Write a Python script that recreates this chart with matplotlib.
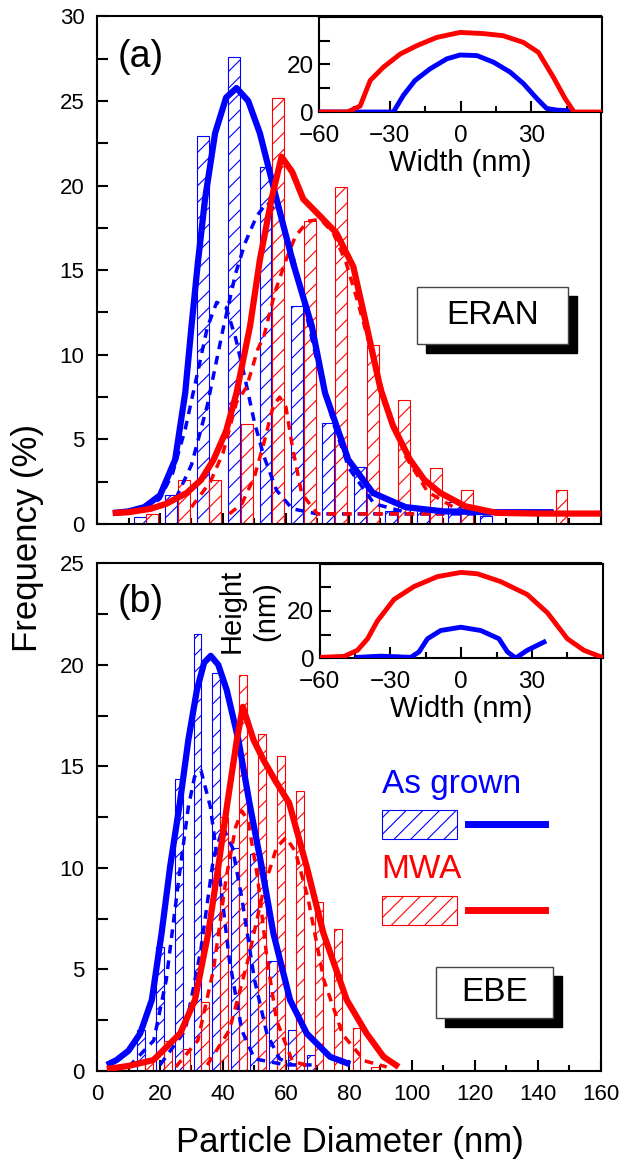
import numpy as np
import matplotlib.pyplot as plt
from matplotlib.patches import Rectangle
from matplotlib.lines import Line2D
from matplotlib.ticker import MultipleLocator

plt.rcParams['font.family'] = ['Liberation Sans', 'DejaVu Sans']
plt.rcParams['hatch.linewidth'] = 0.8

BLUE = '#0000ff'
RED = '#ff0000'

# ---- (a) ERAN histogram (bar centre nm, frequency %)
a_blue_x = [13.5, 23.5, 33.5, 43.5, 53.5, 63.5, 73.5, 83.5, 93.5, 103.5, 113.5, 123.5]
a_blue_y = [0.4, 1.7, 22.9, 27.6, 21.1, 12.9, 6.0, 3.4, 0.8, 0.9, 1.3, 0.5]
a_red_x = [17.5, 27.5, 37.5, 47.5, 57.5, 67.5, 77.5, 87.5, 97.5, 107.5, 117.5, 147.5]
a_red_y = [0.6, 2.6, 2.6, 5.9, 25.2, 17.9, 19.9, 10.6, 7.3, 3.3, 2.0, 2.0]

# fitted curves
a_blue_fit_x = [5, 10, 15, 20, 24.8, 28, 30, 32, 34.3, 37.5, 41, 44.3, 48, 51.7, 57, 62.3, 68.2, 72.4, 79.8, 87.6, 98, 110, 125, 145]
a_blue_fit_y = [0.65, 0.75, 1.0, 1.7, 3.8, 7.75, 11.7, 15.4, 19.2, 23.1, 25.2, 25.76, 25.0, 23.1, 19.2, 15.4, 11.7, 7.75, 3.8, 1.84, 1.0, 0.75, 0.7, 0.7]
a_red_fit_x = [5, 10, 17, 22, 28.5, 33, 37, 41, 44.3, 48.6, 51.7, 55.4, 58.6, 62, 65.5, 70.8, 76, 81.4, 85.6, 90, 94, 99.4, 104, 109, 117, 127, 140, 160]
a_red_fit_y = [0.65, 0.7, 0.9, 1.2, 1.84, 2.6, 3.8, 5.5, 7.75, 11.7, 15.6, 19.2, 21.7, 20.8, 19.2, 18.2, 17.2, 15.2, 11.7, 8.0, 5.8, 3.8, 2.6, 1.84, 1.05, 0.66, 0.62, 0.62]
a_blue_p1_x = [15, 20, 24, 28, 32, 35, 38, 41, 44, 47, 50, 53, 57, 62, 70, 90, 140]
a_blue_p1_y = [0.8, 1.5, 3.0, 5.6, 9.0, 11.6, 13.1, 12.8, 11.0, 8.6, 6.0, 4.0, 2.0, 0.9, 0.6, 0.6, 0.6]
a_blue_p2_x = [25, 30, 35, 40, 44, 47, 50.7, 54, 58, 62, 66, 70, 75, 80, 88, 100]
a_blue_p2_y = [1.5, 3.5, 7.0, 11.5, 14.8, 16.6, 18.2, 19.0, 18.3, 16.0, 12.8, 9.5, 6.0, 3.3, 1.2, 0.6]
a_red_p1_x = [42, 46, 50, 53, 56, 58, 60, 62, 65, 70, 80, 110]
a_red_p1_y = [0.6, 1.2, 2.8, 4.8, 7.0, 7.5, 6.9, 4.6, 1.8, 0.6, 0.6, 0.6]
a_red_p2_x = [30, 36, 40, 44.3, 47.5, 51, 53, 56.5, 60, 63, 67, 71, 75, 79, 83, 87, 92, 98, 105, 115, 125]
a_red_p2_y = [1.0, 2.5, 4.2, 7.2, 8.1, 10.3, 11.1, 13.7, 15.6, 17.0, 17.9, 18.0, 17.2, 15.5, 13.0, 10.3, 7.0, 4.0, 1.9, 0.8, 0.6]

# ---- (b) EBE histogram
b_blue_x = [13.9, 19.9, 25.9, 31.9, 37.9, 43.9, 49.9, 55.9, 61.9, 67.9]
b_blue_y = [2.0, 6.1, 14.4, 21.5, 19.6, 11.0, 10.7, 5.4, 2.0, 0.8]
b_red_x = [16.4, 22.4, 28.4, 34.4, 40.4, 46.4, 52.4, 58.4, 64.4, 70.4, 76.4, 82.4, 88.4]
b_red_y = [0.6, 1.5, 1.1, 3.4, 12.5, 19.5, 16.6, 15.5, 13.8, 8.3, 7.0, 2.1, 0.2]

b_blue_fit_x = [3.1, 6.2, 10, 13.7, 17.4, 20.5, 23.2, 26.3, 29, 31.7, 34, 36.1, 38.5, 41.2, 44.9, 48.4, 52.3, 56, 61.3, 66.6, 74, 80.4]
b_blue_fit_y = [0.3, 0.54, 1.0, 1.85, 3.5, 6.78, 10.05, 13.2, 16.3, 18.75, 20.1, 20.44, 20.0, 18.75, 16.3, 13.2, 10.05, 6.78, 3.5, 1.85, 0.7, 0.33]
b_red_fit_x = [3.1, 10, 17.9, 26.4, 31.1, 35.3, 38.5, 41.4, 44.4, 46.3, 49.7, 52.9, 56.6, 61, 66.6, 71.9, 79.3, 85.6, 91, 95.8]
b_red_fit_y = [0.1, 0.25, 0.54, 1.85, 3.5, 6.78, 10.05, 13.2, 16.3, 17.93, 16.3, 15.3, 14.3, 13.2, 10.05, 6.78, 3.5, 1.85, 0.7, 0.2]
b_blue_p1_x = [10, 18, 22, 26, 29, 31, 33, 36, 39, 42, 46, 50, 60, 70]
b_blue_p1_y = [0.2, 1.5, 4.5, 9.5, 13.0, 14.5, 14.8, 13.0, 9.5, 5.5, 2.0, 0.6, 0.3, 0.3]
b_blue_p2_x = [20, 28, 33, 37, 40, 43, 46, 50, 54, 58, 62]
b_blue_p2_y = [0.3, 2.0, 6.0, 10.5, 12.0, 11.0, 8.5, 4.5, 1.8, 0.6, 0.3]
b_red_p1_x = [25, 32, 37, 41, 44, 46, 48, 51, 54, 57, 62, 68]
b_red_p1_y = [0.2, 1.5, 5.0, 9.5, 12.0, 12.8, 12.3, 9.5, 5.5, 2.5, 0.5, 0.2]
b_red_p2_x = [35, 42, 48, 53, 57, 60, 63, 67, 72, 78, 85, 92]
b_red_p2_y = [0.3, 2.0, 5.5, 9.0, 11.0, 11.5, 10.8, 8.5, 4.5, 1.8, 0.5, 0.2]

# ---- insets: height profiles (width nm, height nm)
ia_red_x = [-60, -48, -42.6, -38.3, -32.7, -25.6, -18.6, -10.1, -0.2, 9.7, 18.1, 26.6, 33, 39.3, 44.3, 48.1, 60]
ia_red_y = [0, 0, 2.5, 13.3, 18.9, 24.4, 27.9, 31.4, 33.5, 33.0, 32.1, 29.3, 25.1, 14.7, 5.7, 0, 0]
ia_blue_x = [-60, -28.5, -24.2, -19.3, -12.9, -5.8, -0.2, 6.9, 13.9, 21, 26.6, 32.3, 36.5, 40.8, 47.1]
ia_blue_y = [0, 0, 7.1, 13.3, 18.2, 22.4, 24.0, 23.75, 21.0, 16.8, 12.0, 5.7, 1.5, 0.8, 0.5]
ib_red_x = [-59.5, -49.7, -44, -39.7, -35.5, -28.5, -20, -10.1, -0.2, 6.9, 16.7, 28, 36.5, 45, 52, 59.8]
ib_red_y = [0.3, 0.7, 3.3, 8.2, 15.8, 24.9, 30.4, 34.6, 36.4, 35.8, 32.5, 27.0, 19.3, 8.2, 3.3, 0.3]
ib_blue_x = [-44, -34.1, -21.4, -17.9, -14.3, -8.7, -0.2, 8.3, 16, 19.6, 23.1, 28, 35.1]
ib_blue_y = [0.3, 0.8, 0.3, 2.6, 8.2, 11.7, 13.1, 11.7, 8.2, 2.6, 0, 3.3, 6.8]


def style_axes(ax, lw=1.5, size=16, xpad=9, ypad=9):
    for s in ax.spines.values():
        s.set_linewidth(lw)
    ax.tick_params(which='both', direction='in', width=lw, labelsize=size)
    ax.tick_params(which='major', length=8)
    ax.tick_params(which='minor', length=4)
    ax.tick_params(axis='y', which='minor', length=8)
    ax.tick_params(axis='x', pad=xpad)
    ax.tick_params(axis='y', pad=ypad)


def draw_hist(ax, bx, by, rx, ry, w):
    ax.bar(bx, by, width=w, facecolor='none', edgecolor=BLUE, hatch='//', linewidth=0.8, zorder=2)
    ax.bar(rx, ry, width=w, facecolor='none', edgecolor=RED, hatch='//', linewidth=0.8, zorder=2)


def label_box(ax, x0, y0, x1, y1, text):
    ax.add_patch(Rectangle((x0 + 0.018, y0 - 0.018), x1 - x0, y1 - y0, transform=ax.transAxes,
                           facecolor='black', edgecolor='black', zorder=5))
    ax.add_patch(Rectangle((x0, y0), x1 - x0, y1 - y0, transform=ax.transAxes,
                           facecolor='white', edgecolor='#444444', linewidth=1, zorder=6))
    ax.text((x0 + x1) / 2, (y0 + y1) / 2, text, transform=ax.transAxes, ha='center', va='center',
            fontsize=24, zorder=7)


fig = plt.figure(figsize=(6.22, 11.62), dpi=100)
ax1 = fig.add_axes([0.156, 0.549, 0.810, 0.437])
ax2 = fig.add_axes([0.156, 0.0783, 0.810, 0.437])

# panel (a)
draw_hist(ax1, a_blue_x, a_blue_y, a_red_x, a_red_y, 3.8)
dash = (0, (2.5, 2))
ax1.plot(a_blue_p1_x, a_blue_p1_y, color=BLUE, lw=2.5, ls=dash, zorder=3)
ax1.plot(a_blue_p2_x, a_blue_p2_y, color=BLUE, lw=2.5, ls=dash, zorder=3)
ax1.plot(a_red_p1_x, a_red_p1_y, color=RED, lw=2.5, ls=dash, zorder=3)
ax1.plot(a_red_p2_x, a_red_p2_y, color=RED, lw=2.5, ls=dash, zorder=3)
ax1.plot(a_blue_fit_x, a_blue_fit_y, color=BLUE, lw=4.5, zorder=4, solid_capstyle='butt')
ax1.plot(a_red_fit_x, a_red_fit_y, color=RED, lw=4.5, zorder=4, solid_capstyle='butt')
ax1.set_xlim(0, 160)
ax1.set_ylim(0, 30)
ax1.xaxis.set_major_locator(MultipleLocator(20))
ax1.xaxis.set_minor_locator(MultipleLocator(10))
ax1.yaxis.set_major_locator(MultipleLocator(5))
ax1.yaxis.set_minor_locator(MultipleLocator(2.5))
style_axes(ax1)
ax1.set_xticklabels([])
ax1.text(0.04, 0.919, '(a)', transform=ax1.transAxes, fontsize=27, va='center')
label_box(ax1, 0.635, 0.354, 0.935, 0.467, 'ERAN')

# panel (b)
draw_hist(ax2, b_blue_x, b_blue_y, b_red_x, b_red_y, 2.5)
ax2.plot(b_blue_p1_x, b_blue_p1_y, color=BLUE, lw=2.5, ls=dash, zorder=3)
ax2.plot(b_blue_p2_x, b_blue_p2_y, color=BLUE, lw=2.5, ls=dash, zorder=3)
ax2.plot(b_red_p1_x, b_red_p1_y, color=RED, lw=2.5, ls=dash, zorder=3)
ax2.plot(b_red_p2_x, b_red_p2_y, color=RED, lw=2.5, ls=dash, zorder=3)
ax2.plot(b_blue_fit_x, b_blue_fit_y, color=BLUE, lw=4.5, zorder=4, solid_capstyle='butt')
ax2.plot(b_red_fit_x, b_red_fit_y, color=RED, lw=4.5, zorder=4, solid_capstyle='butt')
ax2.set_xlim(0, 160)
ax2.set_ylim(0, 25)
ax2.xaxis.set_major_locator(MultipleLocator(20))
ax2.xaxis.set_minor_locator(MultipleLocator(10))
ax2.yaxis.set_major_locator(MultipleLocator(5))
ax2.yaxis.set_minor_locator(MultipleLocator(2.5))
style_axes(ax2)
ax2.text(0.04, 0.923, '(b)', transform=ax2.transAxes, fontsize=27, va='center')
label_box(ax2, 0.673, 0.104, 0.905, 0.205, 'EBE')

# legend drawn by hand in panel (b)
ax2.text(0.565, 0.547, 'As grown', color=BLUE, fontsize=24, transform=ax2.transAxes, va='baseline')
ax2.add_patch(Rectangle((0.565, 0.457), 0.149, 0.057, transform=ax2.transAxes, facecolor='none',
                        edgecolor=BLUE, hatch='//', linewidth=0.8))
ax2.add_line(Line2D([0.736, 0.889], [0.486, 0.486], transform=ax2.transAxes, color=BLUE, lw=5))
ax2.text(0.565, 0.380, 'MWA', color=RED, fontsize=24, transform=ax2.transAxes, va='baseline')
ax2.add_patch(Rectangle((0.565, 0.287), 0.149, 0.057, transform=ax2.transAxes, facecolor='none',
                        edgecolor=RED, hatch='//', linewidth=0.8))
ax2.add_line(Line2D([0.736, 0.889], [0.317, 0.317], transform=ax2.transAxes, color=RED, lw=5))

# insets
for pos, rx, ry, bx, by in [([0.513, 0.9036, 0.455, 0.0818], ia_red_x, ia_red_y, ia_blue_x, ia_blue_y),
                            ([0.514, 0.4337, 0.455, 0.081], ib_red_x, ib_red_y, ib_blue_x, ib_blue_y)]:
    ins = fig.add_axes(pos)
    ins.plot(bx, by, color=BLUE, lw=3.5, zorder=3)
    ins.plot(rx, ry, color=RED, lw=3.5, zorder=4)
    ins.set_xlim(-60, 60)
    ins.set_ylim(0, 40)
    ins.set_xticks([-60, -30, 0, 30])
    ins.set_yticks([0, 20])
    ins.xaxis.set_minor_locator(MultipleLocator(15))
    ins.yaxis.set_minor_locator(MultipleLocator(10))
    style_axes(ins, size=17.5, xpad=9, ypad=4)
    ins.set_xlabel('Width (nm)', fontsize=21, labelpad=2)
    if pos[1] < 0.5:
        ins.text(-0.25, 0.5, 'Height\n(nm)', transform=ins.transAxes, rotation=90, fontsize=21,
                 ha='center', va='center', multialignment='center', linespacing=1.3)

fig.text(0.045, 0.537, 'Frequency (%)', rotation=90, fontsize=25, ha='center', va='center')
fig.text(0.563, 0.017, 'Particle Diameter (nm)', fontsize=25, ha='center', va='center')

fig.savefig('out.png', dpi=100)
